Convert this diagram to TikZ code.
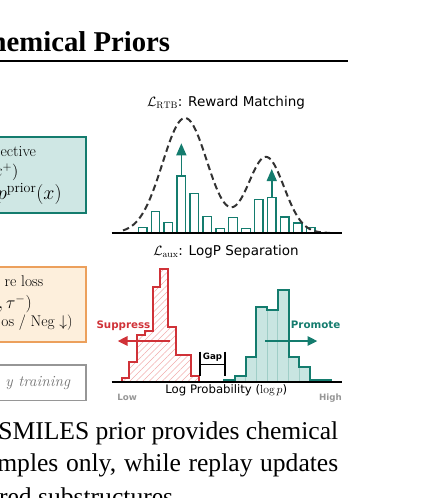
\RequirePackage{fix-cm}
\documentclass[tikz,border=0pt]{standalone}
\usepackage{fontspec}
\usetikzlibrary{arrows.meta,patterns.meta}
\newfontfamily\sansdv{DejaVu Sans}
\newfontfamily\serift{Liberation Serif}
\definecolor{tealc}{RGB}{20,124,110}
\definecolor{tealbg}{RGB}{207,231,228}
\definecolor{tealhist}{RGB}{201,229,225}
\definecolor{tealedge}{RGB}{160,206,199}
\definecolor{redc}{RGB}{208,50,56}
\definecolor{hatchred}{RGB}{240,172,172}
\definecolor{orangec}{RGB}{236,160,92}
\definecolor{orangebg}{RGB}{253,239,220}
\definecolor{grayc}{RGB}{150,150,150}
\definecolor{graytxt}{RGB}{115,115,115}
\definecolor{curvec}{RGB}{50,50,50}
\begin{document}
\begin{tikzpicture}[x=1pt,y=-1pt,
  lbl/.style={inner sep=0pt,outer sep=0pt},
  boxfont/.style={font=\fontsize{15.5}{18}\selectfont},
  mathfont/.style={font=\fontsize{17.5}{20}\selectfont},
  capfont/.style={font=\serift\fontsize{25.6}{32}\selectfont},
  panelfont/.style={font=\sansdv\fontsize{13.5}{16}\selectfont},
  tagfont/.style={font=\sansdv\bfseries\fontsize{10.3}{12}\selectfont},
  smallbold/.style={font=\sansdv\bfseries\fontsize{8.7}{10}\selectfont},
  panelbox/.style={lbl,anchor=north east,line width=2pt},
  barstyle/.style={draw=tealc,fill=white,line width=1.4pt},
  uparrow/.style={draw=tealc,line width=1.5pt,-{Triangle[width=10pt,length=12pt]}},
  sidearrow/.style={line width=2.6pt,-{Triangle[width=9pt,length=10pt]}},
  axisline/.style={line width=2pt,black},
]
\useasboundingbox (0,0) rectangle (438,498);
\clip (0,0) rectangle (438,498);

% ---------- title ----------
\node[lbl,anchor=base east,font=\serift\bfseries\fontsize{28.7}{32}\selectfont] (title) at (170,51) {Chemical Priors};
\coordinate (ruleL) at (-5,61);
\coordinate (ruleR) at (348.3,61);
\draw[line width=2.6pt] (ruleL) -- (ruleR);

% ---------- left boxes ----------
\node[panelbox,draw=tealc,fill=tealbg,minimum width=260pt,minimum height=76.6pt] (objbox) at (86,136.7) {};
\node[lbl,boxfont,anchor=base east] (obj1) at (36,156.7) {ective};
\node[lbl,font=\fontsize{16.5}{19}\selectfont,anchor=base east] (obj2) at (18.5,176.5) {$x^{+})$};
\node[lbl,font=\fontsize{20}{23}\selectfont,anchor=base east] (obj3) at (61.7,199.3) {$p^{\mathrm{prior}}(x)$};

\node[panelbox,draw=orangec,fill=orangebg,minimum width=260pt,minimum height=75pt] (auxbox) at (86,266.7) {};
\node[lbl,boxfont,anchor=base east] (aux1) at (43.3,286.7) {re loss};
\node[lbl,mathfont,anchor=base east] (aux2) at (31.7,308.5) {$,\tau^{-})$};
\node[lbl,boxfont,anchor=base east] (aux3) at (72.7,326.5) {os / Neg $\downarrow$)};

\node[panelbox,draw=grayc,fill=white,line width=1.5pt,minimum width=260pt,minimum height=35.7pt] (repbox) at (86,365) {};
\node[lbl,boxfont,anchor=base east,text=graytxt] (rep1) at (70,386.5) {\itshape y training};

% ---------- top panel: reward matching ----------
\node[lbl,panelfont,anchor=base] (rtbtitle) at (226,106.5) {$\mathcal{L}_{\mathrm{RTB}}$: Reward Matching};
\foreach \xl/\t in {138.3/227.7,151.2/211.7,164.1/222.7,177.1/176,190.0/193.3,202.9/216.7,215.8/228.3,228.7/217.3,241.7/228.3,254.6/199.3,267.5/197.3,280.4/217,293.3/223,306.3/227.3}
  \draw[barstyle] (\xl,233) rectangle ({\xl+8.5},\t);
\coordinate (a1s) at (181.35,176);
\coordinate (a1e) at (181.35,143.3);
\coordinate (a2s) at (271.75,197.3);
\coordinate (a2e) at (271.75,169);
\draw[uparrow] (a1s) -- (a1e);
\draw[uparrow] (a2s) -- (a2e);
\draw[curvec,line width=2pt,dash pattern=on 6.5pt off 3.8pt]
  plot[domain=123:330,samples=120,smooth]
  (\x,{233-115*exp(-0.5*((\x-185)/22.5)^2)-76*exp(-0.5*((\x-266)/18)^2)});
\coordinate (ax1L) at (111.7,233);
\coordinate (ax1R) at (341.7,233);
\draw[axisline] (ax1L) -- (ax1R);

% ---------- bottom panel: logP separation ----------
\node[lbl,panelfont,anchor=base] (auxtitle) at (226,255.5) {$\mathcal{L}_{\mathrm{aux}}$: LogP Separation};
% red (negative) histogram
\fill[pattern={Lines[angle=45,distance=4.6pt,line width=0.6pt]},pattern color=hatchred]
  (121.7,382.3) -- (121.7,378.3) -- (129.4,378.3) -- (129.4,361.7) -- (137.1,361.7) -- (137.1,335)
  -- (144.8,335) -- (144.8,330.7) -- (152.5,330.7) -- (152.5,286.7) -- (160.2,286.7) -- (160.2,269)
  -- (167.9,269) -- (167.9,326.7) -- (175.6,326.7) -- (175.6,355) -- (191,355) -- (191,376)
  -- (198.7,376) -- (198.7,382.3) -- cycle;
\draw[redc,line width=2pt,line join=miter]
  (121.7,382.3) -- (121.7,378.3) -- (129.4,378.3) -- (129.4,361.7) -- (137.1,361.7) -- (137.1,335)
  -- (144.8,335) -- (144.8,330.7) -- (152.5,330.7) -- (152.5,286.7) -- (160.2,286.7) -- (160.2,269)
  -- (167.9,269) -- (167.9,326.7) -- (175.6,326.7) -- (175.6,355) -- (191,355) -- (191,376)
  -- (198.7,376) -- (198.7,382.3);
% teal (positive) histogram
\foreach \xl/\t in {224.3/379.5,235.0/376,245.7/356.5,256.4/307,267.1/309.5,277.8/290,288.5/356.5,299.2/366.7,309.9/379.5,320.6/379.5}
  \draw[fill=tealhist,draw=tealedge,line width=0.8pt] (\xl,382.3) rectangle ({\xl+10.7},\t);
\draw[tealc,line width=2pt,line join=miter]
  (224.3,382.3) -- (224.3,379.5) -- (235,379.5) -- (235,376) -- (245.7,376) -- (245.7,356.5)
  -- (256.4,356.5) -- (256.4,307) -- (267.1,307) -- (267.1,309.5) -- (277.8,309.5) -- (277.8,290)
  -- (288.5,290) -- (288.5,356.5) -- (299.2,356.5) -- (299.2,366.7) -- (309.9,366.7) -- (309.9,379.5)
  -- (331.3,379.5) -- (331.3,382.3);
% suppress / promote
\node[lbl,tagfont,text=redc,anchor=base west] (supp) at (96.5,328) {Suppress};
\node[lbl,tagfont,text=tealc,anchor=base east] (prom) at (340.3,328) {Promote};
\coordinate (rs) at (170,341);
\coordinate (re) at (117.5,341);
\coordinate (ts) at (265,341);
\coordinate (te) at (317.5,341);
\draw[sidearrow,draw=redc,fill=redc] (rs) -- (re);
\draw[sidearrow,draw=tealc,fill=tealc] (ts) -- (te);
% gap bracket
\coordinate (g1t) at (200,351.7);
\coordinate (g1b) at (200,376);
\coordinate (g2t) at (225,351.7);
\coordinate (g2b) at (225,376);
\coordinate (gm1) at (200,364.3);
\coordinate (gm2) at (225,364.3);
\draw[line width=1.2pt] (g1t) -- (g1b);
\draw[line width=1.2pt] (g2t) -- (g2b);
\draw[line width=1.2pt] (gm1) -- (gm2);
\node[lbl,smallbold,anchor=base] (gap) at (212.5,359.5) {Gap};
% axis
\coordinate (ax2L) at (111.7,382.3);
\coordinate (ax2R) at (341.7,382.3);
\draw[axisline] (ax2L) -- (ax2R);
\node[lbl,font=\sansdv\fontsize{11.7}{14}\selectfont,anchor=base] (xlab) at (226.3,393) {Log Probability ($\log p$)};
\node[lbl,smallbold,text=grayc,anchor=base west] (low) at (117.3,400) {Low};
\node[lbl,smallbold,text=grayc,anchor=base east] (high) at (341.7,400) {High};

% ---------- caption text ----------
\node[lbl,capfont,anchor=base east] (cap1) at (338.3,439.3) {\makebox[340pt][s]{SMILES prior provides chemical}};
\node[lbl,capfont,anchor=base east] (cap2) at (338.3,471.7) {\makebox[341pt][s]{mples only, while replay updates}};
\node[lbl,capfont,anchor=base west] (cap3) at (-1,505) {red substructures};
\end{tikzpicture}
\end{document}
